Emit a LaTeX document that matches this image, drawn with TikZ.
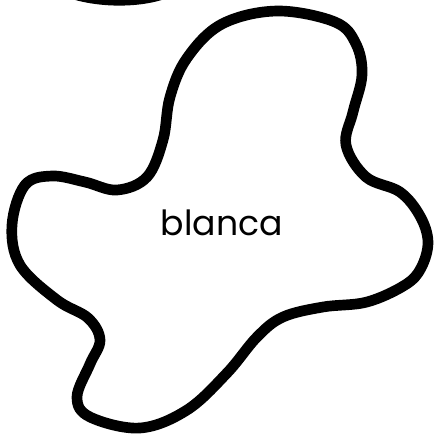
\documentclass[tikz,border=0pt]{standalone}
\usepackage{fontspec}
\setmainfont{Poppins}
\usepackage{xcolor}
\usepackage{tikz}
\definecolor{blobink}{HTML}{000000}

\begin{document}
\begin{tikzpicture}[
        x=0.75pt, y=-0.75pt,
        blob/.style={
            draw=blobink,
            line width=8pt,
            line join=round
        },
        label/.style={
            font=\fontsize{26}{30}\selectfont,
            text=blobink,
            inner sep=0pt
        }
    ]
        \useasboundingbox (0,0) rectangle (434,437);
        \begin{scope}
            \clip (0,0) rectangle (434,437);
            % partial blob at the top edge
            \draw[blob] (55,-14) .. controls (85,4) and (150,6) .. (180,-14);
            % main blob
            \draw[blob] plot[smooth cycle, tension=0.6] coordinates {
                (277,11) (335,22) (356,44) (362,75) (353,112) (346,145)
                (366,177) (400,192) (420,216) (428,242) (421,268) (405,285)
                (367,302) (323,307) (283,317) (257,337) (227,373) (187,410)
                (140,428) (90,417) (77,397) (90,364) (100,340) (88,318)
                (57,300) (20,265) (12,225) (25,185) (52,176) (85,182)
                (117,190) (147,177) (163,140) (170,97) (187,58) (222,24)
            };
        \end{scope}
        \node[label] (name) at (222,223) {blanca};
    \end{tikzpicture}
\end{document}
